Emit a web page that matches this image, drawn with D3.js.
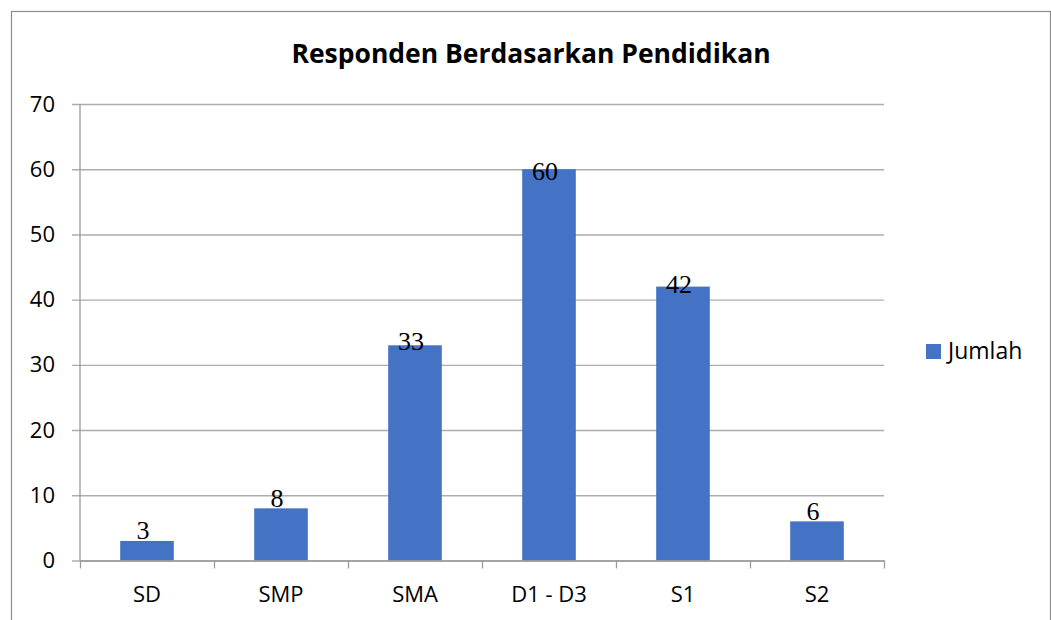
<!DOCTYPE html>
<meta charset="utf-8">
<style>
body {
  margin: 0;
  background: #fff;
}

.title {
  fill: #000;
  font: bold 26.5px "Open Sans", sans-serif;
}

.tick text {
  fill: #000;
  font: 22px "Open Sans", sans-serif;
}

.value {
  fill: #000;
  font: 26px "Liberation Serif", serif;
}

.legend-label {
  fill: #000;
  font: 23px "Open Sans", sans-serif;
}
</style>
<body>
  <div id="chart"></div>
</body>
<script src="https://cdn.jsdelivr.net/npm/d3@7"></script>
<script>

var categories = ["SD", "SMP", "SMA", "D1 - D3", "S1", "S2"];
var jumlah = [3, 8, 33, 60, 42, 6];
var yTicks = [0, 10, 20, 30, 40, 50, 60, 70];
var seriesName = "Jumlah";
var title = "Responden Berdasarkan Pendidikan";

var width = 1051,
    height = 620,
    barColor = "#4472c4",
    gridColor = "#adadad",
    axisColor = "#9a9a9a";

var margin = {left: 80, right: 167, top: 104, bottom: 60};
var plotW = width - margin.left - margin.right,
    plotH = 560.5 - margin.top;

var svg = d3.select("#chart").append("svg")
    .attr("width", width)
    .attr("height", height);

// outer chart frame
svg.append("rect")
  .attr("x", 11.5)
  .attr("y", 11.5)
  .attr("width", 1039)
  .attr("height", 640)
  .attr("fill", "none")
  .attr("stroke", "#8c8c8c")
  .attr("stroke-width", 1.2);

svg.append("text")
  .attr("class", "title")
  .attr("x", 531)
  .attr("y", 63)
  .attr("text-anchor", "middle")
  .text(title);

var g = svg.append("g")
  .attr("transform", "translate(" + margin.left + "," + margin.top + ")");

var x = d3.scaleBand()
  .domain(categories)
  .range([0, plotW])
  .paddingInner(0.6)
  .paddingOuter(0.3);

var y = d3.scaleLinear()
  .domain([0, 70])
  .range([plotH, 0]);

// gridlines + y ticks
var yAxis = g.append("g")
  .call(d3.axisLeft(y).tickValues(yTicks).tickSize(-plotW).tickPadding(25));
yAxis.select(".domain").remove();
yAxis.selectAll(".tick line")
  .attr("x1", -8)
  .attr("stroke", gridColor)
  .attr("stroke-width", 1.4);

// left axis line
g.append("line")
  .attr("x1", 0).attr("x2", 0)
  .attr("y1", 0).attr("y2", plotH)
  .attr("stroke", axisColor)
  .attr("stroke-width", 1.3);

g.selectAll("rect.bar")
  .data(jumlah)
  .enter().append("rect")
  .attr("class", "bar")
  .attr("x", function(d, i) { return x(categories[i]); })
  .attr("y", function(d) { return y(d); })
  .attr("width", x.bandwidth())
  .attr("height", function(d) { return plotH - y(d); })
  .attr("fill", barColor);

// x axis: category boundaries ticks
var bounds = d3.scaleLinear().domain([0, categories.length]).range([0, plotW]);
var xTicks = g.append("g")
  .attr("transform", "translate(0," + plotH + ")")
  .call(d3.axisBottom(bounds).tickValues(d3.range(categories.length + 1)).tickFormat("").tickSize(8).tickSizeOuter(0));
xTicks.select(".domain").attr("stroke", axisColor).attr("stroke-width", 1.3);
xTicks.selectAll(".tick line").attr("stroke", axisColor).attr("stroke-width", 1.3);

var xAxis = g.append("g")
  .attr("transform", "translate(0," + plotH + ")")
  .call(d3.axisBottom(x).tickSize(0).tickPadding(26));
xAxis.select(".domain").remove();

// value labels (placed roughly as in the source, drifting lower for tall bars)
var labelShift = d3.scaleLinear().domain([0, 60]).range([-3, 11]);
g.selectAll("text.value")
  .data(jumlah)
  .enter().append("text")
  .attr("class", "value")
  .attr("text-anchor", "middle")
  .attr("x", function(d, i) { return x(categories[i]) + x.bandwidth() / 2 - 4; })
  .attr("y", function(d) { return y(d) + labelShift(d); })
  .text(function(d) { return d; });

// legend
var legend = svg.append("g")
  .attr("transform", "translate(926,344)");
legend.append("rect")
  .attr("width", 15)
  .attr("height", 15)
  .attr("fill", barColor);
legend.append("text")
  .attr("class", "legend-label")
  .attr("x", 22)
  .attr("y", 15)
  .text(seriesName);

</script>
</html>
